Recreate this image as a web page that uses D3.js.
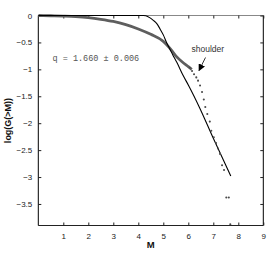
<!DOCTYPE html>
<html><head><meta charset="utf-8">
<script src="https://cdn.jsdelivr.net/npm/d3@7"></script>
<style>body{margin:0;background:#fff}</style>
</head><body>
<script>
// Data
const xTicks = [1,2,3,4,5,6,7,8,9];
const yTicks = [0,-0.5,-1,-1.5,-2,-2.5,-3,-3.5];
const yTickLabels = ["0","\u22120.5","\u22121","\u22121.5","\u22122","\u22122.5","\u22123","\u22123.5"];
// thick gray empirical curve (M, log G)
const grayM = [0,0.5,1.0,1.5,2.0,2.5,3.0,3.5,4.0,4.5,5.0,5.25,5.5,5.75,6.0,6.14];
const grayV = [0,-0.005,-0.012,-0.022,-0.04,-0.07,-0.11,-0.17,-0.25,-0.35,-0.48,-0.60,-0.75,-0.86,-0.95,-1.0];
// dotted tail beyond the shoulder
const dotM = [6.06,6.15,6.23,6.32,6.39,6.47,6.55,6.62,6.68,6.76,6.86,6.92,7.02,7.11,7.19,7.27,7.35,7.43,7.52,7.62,7.68];
const dotV = [-0.97,-1.03,-1.09,-1.15,-1.21,-1.30,-1.42,-1.56,-1.70,-1.83,-1.97,-2.14,-2.26,-2.37,-2.47,-2.57,-2.78,-2.87,-3.38,-3.38,-3.88];
// black fitted curve
const fitM = [0,1,2,3,4,4.2,4.3,4.47,4.6,4.74,4.87,5.0,5.13,5.27,5.4,5.54,5.8,6.0,6.47,7.0,7.7];
const fitV = [0,0,0,0,0,0,-0.005,-0.044,-0.09,-0.15,-0.25,-0.36,-0.5,-0.63,-0.75,-0.87,-1.12,-1.29,-1.73,-2.28,-2.98];
const qLabel = "q = 1.660 \u00b1 0.006";

const W=274,H=265;
const svg=d3.select("body").append("svg").attr("width",W).attr("height",H);
const x=d3.scaleLinear().domain([0,9]).range([38.3,263.3]);
const y=d3.scaleLinear().domain([-3.9,0]).range([225.5,15.5]);
const font="Liberation Sans, Arial, sans-serif";

svg.append("clipPath").attr("id","c").append("rect")
  .attr("x",x(0)).attr("y",y(0)-2).attr("width",x(9)-x(0)).attr("height",y(-3.9)-y(0)+2);

// frame
svg.append("line").attr("x1",x(0)).attr("x2",x(9)).attr("y1",y(0)).attr("y2",y(0)).attr("stroke","#888").attr("stroke-width",1);
svg.append("line").attr("x1",x(0)).attr("x2",x(9)).attr("y1",y(-3.9)).attr("y2",y(-3.9)).attr("stroke","#222").attr("stroke-width",1);
svg.append("line").attr("x1",x(0)).attr("x2",x(0)).attr("y1",y(0)).attr("y2",y(-3.9)).attr("stroke","#000").attr("stroke-width",1);
svg.append("line").attr("x1",x(9)).attr("x2",x(9)).attr("y1",y(0)).attr("y2",y(-3.9)).attr("stroke","#000").attr("stroke-width",1);

// axes with inward ticks
const ax=svg.append("g").attr("transform",`translate(0,${y(-3.9)})`)
  .call(d3.axisBottom(x).tickValues(xTicks).tickSize(-3).tickPadding(8).tickFormat(d3.format("d")));
const axT=svg.append("g").attr("transform",`translate(0,${y(0)})`)
  .call(d3.axisTop(x).tickValues(xTicks).tickSize(-3).tickFormat(""));
const ay=svg.append("g").attr("transform",`translate(${x(0)},0)`)
  .call(d3.axisLeft(y).tickValues(yTicks).tickSize(-3).tickPadding(6).tickFormat((d,i)=>yTickLabels[i]));
const ayR=svg.append("g").attr("transform",`translate(${x(9)},0)`)
  .call(d3.axisRight(y).tickValues(yTicks).tickSize(-3).tickFormat(""));
[ax,axT,ay,ayR].forEach(g=>{
  g.select(".domain").remove();
  g.selectAll(".tick line").attr("stroke","#222");
  g.selectAll("text").attr("font-family",font).attr("font-size",8).attr("fill","#222");
});

const plot=svg.append("g").attr("clip-path","url(#c)");
const gray=grayM.map((m,i)=>[m,grayV[i]]);
const fit=fitM.map((m,i)=>[m,fitV[i]]);
const line=d3.line().x(d=>x(d[0])).y(d=>y(d[1])).curve(d3.curveMonotoneX);
plot.append("path").datum(gray).attr("d",line).attr("fill","none").attr("stroke","#5e5e5e").attr("stroke-width",2.8);
plot.append("path").datum(fit).attr("d",line).attr("fill","none").attr("stroke","#000").attr("stroke-width",1.1);
plot.selectAll("circle.d").data(dotM.map((m,i)=>[m,dotV[i]])).enter().append("circle")
  .attr("cx",d=>x(d[0])).attr("cy",d=>y(d[1])).attr("r",1.05).attr("fill","#4a4a4a");

// annotations
svg.append("text").attr("x",52.5).attr("y",61).attr("font-family","Liberation Mono, DejaVu Sans Mono, monospace")
  .attr("font-size",8.5).attr("fill","#555").text(qLabel);
svg.append("text").attr("x",191.5).attr("y",51.5).attr("font-family",font).attr("font-size",8.5).attr("fill","#333").text("shoulder");
svg.append("defs").append("marker").attr("id","ah").attr("viewBox","0 0 10 10").attr("refX",9).attr("refY",5)
  .attr("markerWidth",7).attr("markerHeight",7).attr("markerUnits","userSpaceOnUse").attr("orient","auto")
  .append("path").attr("d","M0,0L10,5L0,10z").attr("fill","#000");
svg.append("line").attr("x1",205.5).attr("y1",57.5).attr("x2",199).attr("y2",70.5).attr("stroke","#000").attr("stroke-width",0.8).attr("marker-end","url(#ah)");

// axis labels
svg.append("text").attr("x",150.8).attr("y",247.5).attr("text-anchor","middle").attr("font-family",font)
  .attr("font-weight","bold").attr("font-size",9.5).attr("fill","#111").text("M");
svg.append("text").attr("transform",`translate(10.5,120.5) rotate(-90)`).attr("text-anchor","middle").attr("font-family",font)
  .attr("font-weight","bold").attr("font-size",9).attr("fill","#111").text("log(G(>M))");
</script>
</body></html>
